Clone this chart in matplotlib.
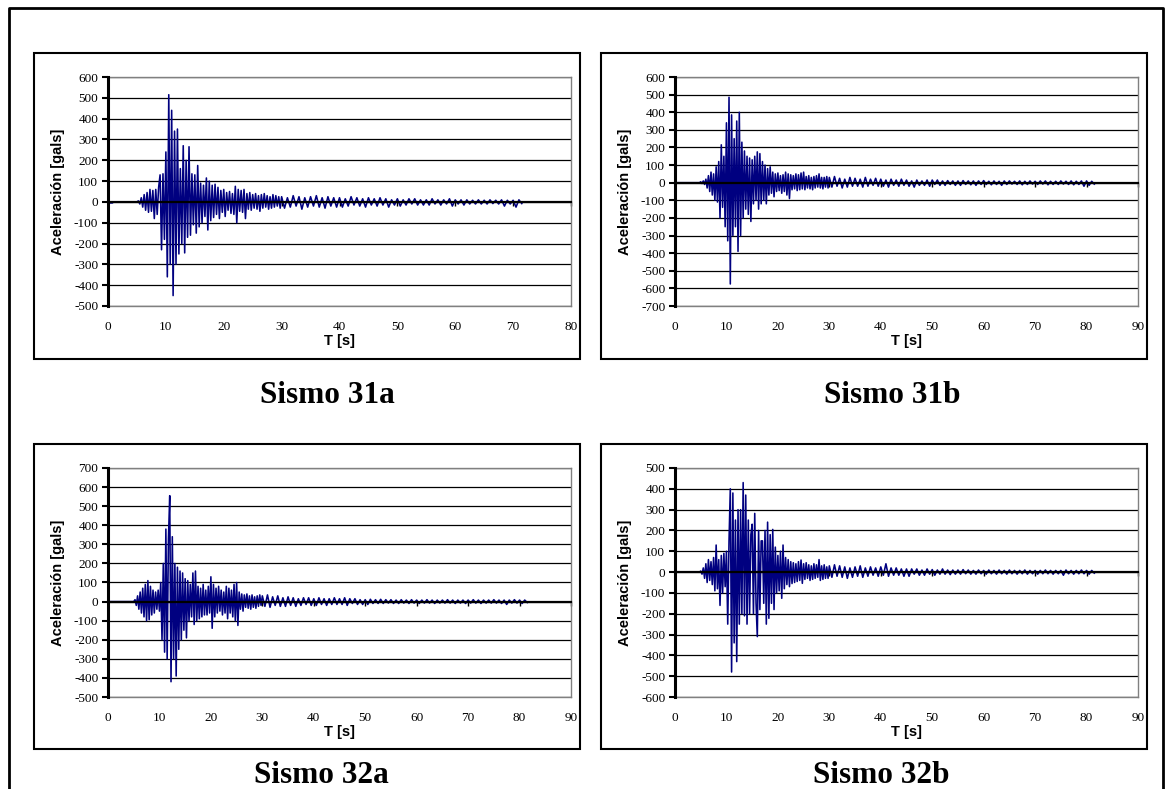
import numpy as np
import matplotlib
matplotlib.use("Agg")
import matplotlib.pyplot as plt
from matplotlib.patches import Rectangle
from matplotlib.lines import Line2D

plt.rcParams['font.family'] = ['Liberation Serif', 'DejaVu Serif']
plt.rcParams['axes.unicode_minus'] = False

# ---------------- data (accelerations in gals) ----------------
# strong-motion part: samples every 0.25 s from t = 0 s to 29.75 s (rows = 1 s)
# tail part: samples every 0.5 s from t = 30 s (rows = 5 s)
dt_strong = 0.25
dt_tail = 0.5
t_tail_start = 30.0

acc_31a_strong = [
    -5, -5, -5, -5,   0, 0, 0, 0,   0, 0, 0, 0,   0, 0, 0, 0,   0, 0, 0, 0,
    0, 5, -10, 20,
    -25, 35, -40, 45,
    -50, 60, -45, 55,
    -80, 60, -60, 70,
    130, -230, 135, -180,
    240, -360, 515, -300,
    440, -450, 340, -300,
    350, -250, 160, -200,
    270, -245, 200, -170,
    265, -160, 135, -110,
    130, -150, 175, -120,
    90, -100, 80, -70,
    115, -135, 100, -90,
    80, -75, 85, -60,
    70, -80, 55, -50,
    60, -70, 45, -40,
    50, -55, 40, -60,
    75, -100, 60, -45,
    55, -50, 60, -80,
    40, -35, 45, -40,
    35, -30, 40, -35,
    30, -45, 35, -30,
    40, -25, 30, -35,
    25, -30, 35, -25,
    30, -20, 25, -30,
]
acc_31a_tail = [
    25, -30, 20, -25, 30, -20, 25, -35, 20, -25,
    25, -20, 30, -25, 20, -30, 25, -20, 20, -25,
    20, -25, 15, -20, 25, -15, 20, -20, 15, -25,
    20, -15, 15, -20, 20, -15, 15, -25, 10, -15,
    15, -20, 10, -15, 15, -10, 15, -15, 10, -15,
    10, -15, 15, -10, 10, -15, 10, -10, 15, -20,
    10, -10, 10, -15, 10, -10, 8, -10, 10, -10,
    8, -10, 10, -8, 8, -10, 10, -20, 8, -10,
    8, -25, 10, -8,
]

acc_31b_strong = [
    0, 0, 0, 0,   0, 0, 0, 0,   0, 0, 0, 0,   0, 0, 0, 0,   0, 0, 0, 0,
    5, -5, 10, -10,
    20, -30, 40, -50,
    60, -70, 50, -100,
    90, -110, 120, -200,
    215, -140, 150, -250,
    340, -330, 485, -575,
    385, -300, 250, -250,
    350, -390, 400, -300,
    230, -200, 180, -150,
    150, -180, 140, -220,
    130, -120, 150, -100,
    175, -150, 165, -120,
    120, -100, 100, -120,
    80, -70, 90, -60,
    60, -80, 50, -50,
    55, -45, 40, -60,
    45, -50, 60, -70,
    50, -90, 45, -40,
    40, -35, 50, -45,
    45, -40, 55, -35,
    60, -40, 35, -30,
    40, -35, 30, -40,
    35, -30, 40, -25,
    50, -30, 30, -35,
    30, -25, 35, -30,
]
acc_31b_tail = [
    30, -25, 35, -20, 25, -30, 20, -25, 30, -20,
    25, -20, 20, -25, 30, -20, 20, -15, 25, -20,
    20, -20, 15, -25, 20, -15, 15, -20, 20, -15,
    15, -20, 10, -25, 15, -15, 10, -15, 15, -20,
    15, -10, 15, -15, 10, -15, 12, -10, 10, -15,
    10, -15, 12, -10, 10, -12, 10, -15, 10, -10,
    12, -10, 8, -12, 10, -10, 8, -15, 10, -10,
    10, -8, 8, -10, 10, -12, 8, -10, 10, -8,
    8, -10, 10, -8, 10, -12, 8, -10, 8, -10,
    10, -8, 8, -10, 10, -12, 8, -10, 10, -20,
    10, -15, 8, -8,
]

acc_32a_strong = [
    0, 0, 0, 0,   0, 0, 0, 0,   0, 0, 0, 0,   0, 0, 0, 0,   0, 0, 0, 0,
    0, 10, -20, 30,
    -40, 50, -60, 70,
    -80, 90, -100, 110,
    -95, 80, -70, 60,
    -60, 50, -40, 60,
    -50, 100, -200, 200,
    -265, 380, -300, 330,
    555, -420, 340, -300,
    200, -390, 180, -250,
    160, -200, 150, -150,
    120, -190, 110, -100,
    90, -80, 150, -120,
    160, -100, 80, -90,
    70, -80, 90, -70,
    60, -70, 80, -60,
    130, -140, 90, -80,
    70, -60, 80, -50,
    60, -70, 50, -60,
    80, -90, 70, -60,
    60, -80, 90, -100,
    100, -125, 50, -40,
    40, -50, 35, -30,
    40, -35, 30, -40,
    35, -30, 25, -35,
    30, -25, 35, -20,
]
acc_32a_tail = [
    30, -25, 35, -30, 25, -20, 30, -25, 20, -25,
    25, -20, 20, -25, 15, -20, 20, -15, 20, -20,
    15, -20, 20, -15, 15, -20, 15, -15, 20, -15,
    15, -15, 20, -20, 15, -10, 15, -15, 10, -15,
    10, -15, 12, -10, 10, -10, 12, -10, 10, -8,
    10, -10, 8, -10, 10, -8, 8, -10, 10, -8,
    8, -10, 8, -8, 10, -8, 8, -10, 8, -8,
    8, -8, 10, -8, 8, -10, 8, -8, 8, -10,
    8, -8, 10, -8, 8, -10, 8, -8, 8, -8,
    10, -8, 8, -10, 8, -15, 8, -8, 10, -8,
    8, -10, 8, -5,
]

acc_32b_strong = [
    0, 0, 0, 0,   0, 0, 0, 0,   0, 0, 0, 0,   0, 0, 0, 0,   0, 0, 0, 0,
    5, -10, 20, -30,
    40, -50, 60, -40,
    50, -60, 70, -90,
    130, -80, 60, -160,
    80, -100, 90, -70,
    100, -250, 150, 400,
    -480, 380, -340, 250,
    -430, 300, -250, 300,
    -200, 430, -210, 370,
    -250, 250, -200, 180,
    230, -200, 282, -150,
    -310, 200, -180, 150,
    150, -150, 200, -250,
    240, -222, 180, -150,
    205, -180, 120, -100,
    80, -90, 100, -126,
    130, -80, 70, -60,
    60, -70, 50, -55,
    45, -50, 40, -45,
    50, -40, 58, -54,
    40, -35, 45, -30,
    35, -40, 30, -35,
    40, -30, 35, -25,
    60, -40, 30, -35,
    35, -30, 25, -30,
]
acc_32b_tail = [
    30, -25, 35, -20, 30, -25, 25, -30, 20, -25,
    25, -20, 30, -25, 20, -20, 25, -15, 20, -20,
    25, -15, 40, -20, 20, -15, 20, -15, 15, -20,
    15, -20, 15, -10, 15, -15, 10, -15, 15, -10,
    12, -15, 10, -10, 15, -10, 10, -12, 10, -10,
    10, -10, 12, -8, 10, -10, 8, -10, 10, -8,
    8, -10, 10, -8, 8, -10, 10, -8, 8, -10,
    10, -8, 8, -10, 8, -8, 10, -10, 8, -8,
    8, -10, 8, -8, 10, -8, 8, -10, 8, -8,
    8, -15, 10, -8, 8, -10, 8, -8, 10, -8,
    8, -10, 8, -5,
]

titles = ["Sismo 31a", "Sismo 31b", "Sismo 32a", "Sismo 32b"]
x_limits = [(0, 80), (0, 90), (0, 90), (0, 90)]
y_limits = [(-500, 600), (-700, 600), (-500, 700), (-600, 500)]
x_label = "T [s]"
y_label = "Aceleración [gals]"

series = [
    (acc_31a_strong, acc_31a_tail),
    (acc_31b_strong, acc_31b_tail),
    (acc_32a_strong, acc_32a_tail),
    (acc_32b_strong, acc_32b_tail),
]

# ---------------- layout (pixels) ----------------
W, H = 1167, 789
fig = plt.figure(figsize=(W / 100, H / 100), dpi=100)
fig.patch.set_facecolor('white')


def fx(x):
    return x / W


def fy(y):
    return 1 - y / H


# outer frame (bottom lies beyond the image)
fig.add_artist(Line2D([fx(9), fx(9), fx(1163), fx(1163)],
                      [fy(800), fy(8), fy(8), fy(800)],
                      transform=fig.transFigure, color='black', lw=2.0))

plot_boxes = [(108, 77, 571, 306), (675, 77, 1138, 306),
              (108, 468, 571, 697), (675, 468, 1138, 697)]
frame_boxes = [(34, 53, 580, 359), (601, 53, 1147, 359),
               (34, 444, 580, 749), (601, 444, 1147, 749)]
title_pos = [(327, 403), (892, 403), (321, 783), (881, 783)]
xlabel_y = [341, 341, 732, 732]

for i in range(4):
    x0, y0, x1, y1 = frame_boxes[i]
    fig.add_artist(Rectangle((fx(x0), fy(y1)), fx(x1) - fx(x0), fy(y0) - fy(y1),
                             transform=fig.transFigure, fill=False,
                             ec='black', lw=1.5))

    px0, py0, px1, py1 = plot_boxes[i]
    ax = fig.add_axes([fx(px0), fy(py1), fx(px1) - fx(px0), fy(py0) - fy(py1)])
    strong, tail = series[i]
    t = np.concatenate([np.arange(len(strong)) * dt_strong,
                        t_tail_start + np.arange(len(tail)) * dt_tail])
    a = np.concatenate([np.array(strong, float), np.array(tail, float)])

    xmin, xmax = x_limits[i]
    ymin, ymax = y_limits[i]
    ax.set_xlim(xmin, xmax)
    ax.set_ylim(ymin, ymax)
    yt = np.arange(ymin, ymax + 1, 100)
    ax.set_yticks(yt)
    ax.set_yticklabels([str(int(v)) for v in yt])
    xt = np.arange(xmin, xmax + 1, 10)
    ax.set_xticks(xt)

    ax.yaxis.grid(True, color='black', lw=0.9)
    ax.set_axisbelow(True)
    ax.plot(t, a, color='#000080', lw=1.15, zorder=3)

    for s in ['top', 'right']:
        ax.spines[s].set_color('#808080')
        ax.spines[s].set_linewidth(1.0)
    ax.spines['left'].set_color('black')
    ax.spines['left'].set_linewidth(2.2)
    ax.spines['left'].set_zorder(5)
    ax.spines['bottom'].set_position(('data', 0))
    ax.spines['bottom'].set_color('black')
    ax.spines['bottom'].set_linewidth(1.6)
    ax.spines['bottom'].set_zorder(4)
    ax.tick_params(axis='y', direction='out', length=4, width=1.5,
                   labelsize=9.5, pad=3, colors='black')
    ax.tick_params(axis='x', direction='out', length=3, width=1.0,
                   labelbottom=False)

    sec = ax.secondary_xaxis('bottom')
    sec.set_xticks(xt)
    sec.set_xticklabels([str(int(v)) for v in xt])
    sec.tick_params(length=0, pad=11, labelsize=9.5)
    sec.spines['bottom'].set_color('#808080')
    sec.spines['bottom'].set_linewidth(1.0)

    cx = (px0 + px1) / 2
    fig.text(fx(cx), fy(xlabel_y[i]), x_label, ha='center', va='center',
             fontsize=10.5, fontweight='bold', family=['Liberation Sans'])
    fig.text(fx(px0 - 50), fy((py0 + py1) / 2), y_label, ha='center',
             va='center', rotation=90, fontsize=10.5, fontweight='bold',
             family=['Liberation Sans'])
    tx, ty = title_pos[i]
    fig.text(fx(tx), fy(ty), titles[i], ha='center', va='baseline',
             fontsize=22.5, fontweight='bold', family=['Liberation Serif'])

fig.savefig('out.png', dpi=100, facecolor='white')
